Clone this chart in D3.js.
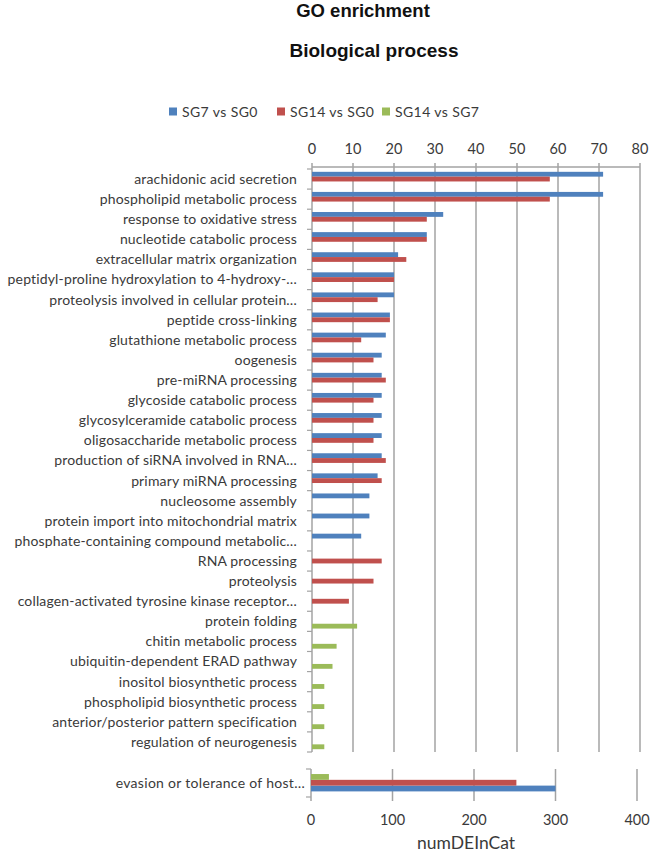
<!DOCTYPE html>
<html>
<head>
<meta charset="utf-8">
<script src="https://cdn.jsdelivr.net/npm/d3@7"></script>
<style>
  html, body { margin: 0; padding: 0; background: #fff; }
  svg { display: block; }
</style>
</head>
<body>
<script>
// ---------- DATA ----------
const categories = [
  "arachidonic acid secretion",
  "phospholipid metabolic process",
  "response to oxidative stress",
  "nucleotide catabolic process",
  "extracellular matrix organization",
  "peptidyl-proline hydroxylation to 4-hydroxy-…",
  "proteolysis involved in cellular protein…",
  "peptide cross-linking",
  "glutathione metabolic process",
  "oogenesis",
  "pre-miRNA processing",
  "glycoside catabolic process",
  "glycosylceramide catabolic process",
  "oligosaccharide metabolic process",
  "production of siRNA involved in RNA…",
  "primary miRNA processing",
  "nucleosome assembly",
  "protein import into mitochondrial matrix",
  "phosphate-containing compound metabolic…",
  "RNA processing",
  "proteolysis",
  "collagen-activated tyrosine kinase receptor…",
  "protein folding",
  "chitin metabolic process",
  "ubiquitin-dependent ERAD pathway",
  "inositol biosynthetic process",
  "phospholipid biosynthetic process",
  "anterior/posterior pattern specification",
  "regulation of neurogenesis"
];
const sg7vs0  = [71,71,32,28,21,20,20,19,18,17,17,17,17,17,17,16,14,14,12,0,0,0,0,0,0,0,0,0,0];
const sg14vs0 = [58,58,28,28,23,20,16,19,12,15,18,15,15,15,18,17,0,0,0,17,15,9,0,0,0,0,0,0,0];
const sg14vs7 = [0,0,0,0,0,0,0,0,0,0,0,0,0,0,0,0,0,0,0,0,0,0,11,6,5,3,3,3,3];

const bottomCategories = ["evasion or tolerance of host…"];
const bottomSg7vs0  = [300];
const bottomSg14vs0 = [252];
const bottomSg14vs7 = [22];

const seriesNames = ["SG7 vs SG0", "SG14 vs SG0", "SG14 vs SG7"];
const seriesColors = ["#4F81BD", "#C0504D", "#9BBB59"];
const topTicks = [0,10,20,30,40,50,60,70,80];
const bottomTicks = [0,100,200,300,400];
const titleText = "GO enrichment";
const subtitleText = "Biological process";
const xAxisTitle = "numDEInCat";

// ---------- SETUP ----------
const W = 652, H = 852;
const labelFont = "Lato, 'Open Sans', sans-serif";
const gridColor = "#a3a3a3";
const textColor = "#3a3a3a";

const svg = d3.select("body").append("svg").attr("width", W).attr("height", H);

// Titles
svg.append("text").attr("x", 363).attr("y", 17).attr("text-anchor", "middle")
  .style("font-family", "'Liberation Sans', Arial, sans-serif").style("font-weight", "bold")
  .style("font-size", "18.5px").attr("fill", "#111").text(titleText);
svg.append("text").attr("x", 374).attr("y", 57).attr("text-anchor", "middle")
  .style("font-family", "'Liberation Sans', Arial, sans-serif").style("font-weight", "bold")
  .style("font-size", "19px").attr("fill", "#111").text(subtitleText);

// Legend
const legendX = [169, 277, 382];
const lg = svg.append("g");
seriesNames.forEach((s, i) => {
  lg.append("rect").attr("x", legendX[i]).attr("y", 107.5).attr("width", 8).attr("height", 8)
    .attr("fill", seriesColors[i]);
  lg.append("text").attr("x", legendX[i] + 13).attr("y", 116.5)
    .style("font-family", labelFont).style("font-size", "14px")
    .style("letter-spacing", "0.4px").attr("fill", textColor).text(s);
});

// ---------- TOP PANEL ----------
const x = d3.scaleLinear().domain([0, 80]).range([312, 640]);
const y = d3.scaleBand().domain(categories).range([169, 752]).padding(0);
const bw = y.bandwidth();
const ySub = d3.scaleBand().domain(seriesNames).range([bw * 0.14, bw * 0.86]).padding(0);

const topG = svg.append("g");
// gridlines
topG.selectAll("line.grid").data(topTicks.filter(t => t > 0)).join("line")
  .attr("x1", d => x(d)).attr("x2", d => x(d))
  .attr("y1", 163).attr("y2", 752)
  .attr("stroke", gridColor).attr("stroke-width", 1.5);
// top axis line
topG.append("line").attr("x1", 312).attr("x2", 640).attr("y1", 167).attr("y2", 167)
  .attr("stroke", gridColor).attr("stroke-width", 1.5);
// y axis line
topG.append("line").attr("x1", 312).attr("x2", 312).attr("y1", 163).attr("y2", 752)
  .attr("stroke", gridColor).attr("stroke-width", 1.5);
// band boundary ticks
const bounds = categories.map(c => y(c)).concat([y(categories[categories.length - 1]) + bw]);
topG.selectAll("line.ytick").data(bounds).join("line")
  .attr("x1", 307).attr("x2", 312).attr("y1", d => d).attr("y2", d => d)
  .attr("stroke", gridColor).attr("stroke-width", 1.2);

// top tick labels
topG.selectAll("text.tick").data(topTicks).join("text")
  .attr("x", d => x(d)).attr("y", 154).attr("text-anchor", "middle")
  .style("font-family", labelFont).style("font-size", "14.5px").attr("fill", textColor)
  .text(d => d);

// category labels
topG.selectAll("text.cat").data(categories).join("text")
  .attr("x", 297).attr("y", d => y(d) + bw / 2).attr("dy", "0.35em")
  .attr("text-anchor", "end")
  .style("font-family", labelFont).style("font-size", "14px")
  .style("letter-spacing", "0.15px").attr("fill", textColor)
  .text(d => d);

// bars
const topSeries = [sg7vs0, sg14vs0, sg14vs7];
topSeries.forEach((vals, si) => {
  topG.append("g").selectAll("rect").data(categories.map((c, i) => ({ c, v: vals[i] })).filter(d => d.v > 0))
    .join("rect")
    .attr("x", x(0)).attr("y", d => y(d.c) + ySub(seriesNames[si]))
    .attr("width", d => x(d.v) - x(0)).attr("height", ySub.bandwidth())
    .attr("fill", seriesColors[si]);
});

// ---------- BOTTOM PANEL ----------
const x2 = d3.scaleLinear().domain([0, 400]).range([311, 637]);
const y2 = d3.scaleBand().domain(bottomCategories).range([769, 797]).padding(0);
const bw2 = y2.bandwidth();
const y2Sub = d3.scaleBand().domain(["SG14 vs SG7", "SG14 vs SG0", "SG7 vs SG0"])
  .range([bw2 * 0.18, bw2 * 0.8]).padding(0);

const botG = svg.append("g");
botG.selectAll("line.grid").data(bottomTicks).join("line")
  .attr("x1", d => x2(d)).attr("x2", d => x2(d))
  .attr("y1", 769).attr("y2", 801)
  .attr("stroke", gridColor).attr("stroke-width", 1.5);
botG.selectAll("line.ytick").data([769, 797]).join("line")
  .attr("x1", 306).attr("x2", 311).attr("y1", d => d).attr("y2", d => d)
  .attr("stroke", gridColor).attr("stroke-width", 1.2);

botG.selectAll("text.tick").data(bottomTicks).join("text")
  .attr("x", d => x2(d)).attr("y", 825).attr("text-anchor", "middle")
  .style("font-family", labelFont).style("font-size", "14.5px").attr("fill", textColor)
  .text(d => d);

botG.selectAll("text.cat").data(bottomCategories).join("text")
  .attr("x", 305).attr("y", d => y2(d) + bw2 / 2).attr("dy", "0.35em")
  .attr("text-anchor", "end")
  .style("font-family", labelFont).style("font-size", "14px")
  .style("letter-spacing", "0.3px").attr("fill", textColor)
  .text(d => d);

const bottomSeries = [bottomSg7vs0, bottomSg14vs0, bottomSg14vs7];
bottomSeries.forEach((vals, si) => {
  botG.append("g").selectAll("rect").data(bottomCategories.map((c, i) => ({ c, v: vals[i] })))
    .join("rect")
    .attr("x", x2(0)).attr("y", d => y2(d.c) + y2Sub(seriesNames[si]))
    .attr("width", d => x2(d.v) - x2(0)).attr("height", y2Sub.bandwidth())
    .attr("fill", seriesColors[si]);
});

svg.append("text").attr("x", 466).attr("y", 849).attr("text-anchor", "middle")
  .style("font-family", labelFont).style("font-size", "17.5px").attr("fill", textColor)
  .text(xAxisTitle);
</script>
</body>
</html>
